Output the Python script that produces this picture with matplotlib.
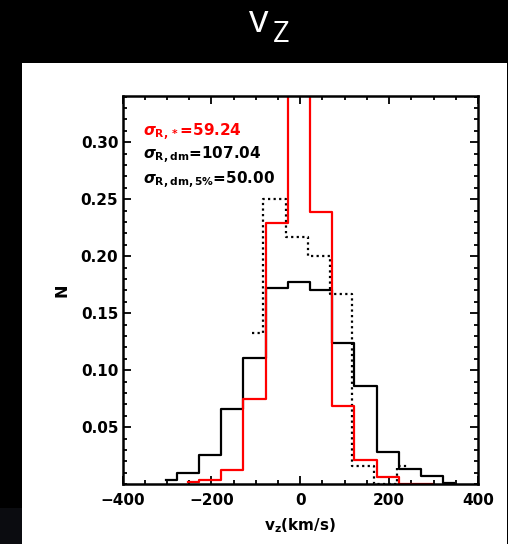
import matplotlib
matplotlib.use("Agg")
import matplotlib.pyplot as plt
from matplotlib.patches import Rectangle
from matplotlib.ticker import MultipleLocator

# ---- data (bin centres in km/s, fractions N) ----
black_x = [-303, -253, -203, -153, -103, -53, -3, 47, 97, 147, 197, 247, 297, 347]
black_y = [0.0038, 0.0096, 0.0257, 0.066, 0.111, 0.1725, 0.1775, 0.1705,
           0.124, 0.0865, 0.0283, 0.0134, 0.0073, 0.001]

red_x = [-253, -203, -153, -103, -53, -3, 47, 97, 147, 197, 247, 297]
red_y = [0.002, 0.0042, 0.0125, 0.0745, 0.2295, 0.37, 0.239, 0.0687,
         0.0213, 0.0067, 0.0006, 0.0006]

dot_x = [-108, -58, -8, 42, 92, 142, 192, 242]
dot_y = [0.133, 0.250, 0.2167, 0.200, 0.1667, 0.0163, 0.0006, 0.0163]

xticks = [-400, -200, 0, 200, 400]
yticks = [0.05, 0.10, 0.15, 0.20, 0.25, 0.30]

labels = [(r"$\sigma_{\rm R,*}$=59.24", "red"),
          (r"$\sigma_{\rm R,dm}$=107.04", "black"),
          (r"$\sigma_{\rm R,dm,5\%}$=50.00", "black")]

fnt = "DejaVu Sans"
plt.rcParams["mathtext.fontset"] = "custom"
plt.rcParams["mathtext.rm"] = "DejaVu Sans:bold"
plt.rcParams["mathtext.it"] = "DejaVu Sans:bold:italic"
plt.rcParams["mathtext.bf"] = "DejaVu Sans:bold"

W, H = 508, 544
fig = plt.figure(figsize=(W / 100, H / 100), dpi=100, facecolor="black")

# white panel
fig.patches.append(Rectangle((22 / W, 0), (507 - 22) / W, (H - 63) / H,
                             transform=fig.transFigure, facecolor="white",
                             edgecolor="none", zorder=-10))
fig.patches.append(Rectangle((0, 0), 22 / W, (H - 508) / H,
                             transform=fig.transFigure, facecolor="#0b0c10",
                             edgecolor="none", zorder=-10))

# title v_Z
fig.text(268 / W, 1 - 22 / H, "v", color="white", fontsize=28,
         family="Open Sans", ha="right", va="center")
fig.text(273 / W, 1 - 34 / H, "Z", color="white", fontsize=21,
         family="Open Sans", ha="left", va="center")

ax = fig.add_axes([122.5 / W, 1 - 484.3 / H, (478 - 122.5) / W, (484.3 - 96) / H])
ax.set_facecolor("white")

ax.step(black_x, black_y, where="mid", color="black", lw=1.6)
ax.step(dot_x, dot_y, where="mid", color="black", lw=1.6, ls=(0, (1, 1.5)))
ax.step(red_x, red_y, where="mid", color="red", lw=1.6)

ax.set_xlim(-400, 400)
ax.set_ylim(0, 0.3406)
ax.set_xticks(xticks)
ax.set_yticks(yticks)
ax.set_xticklabels([("\u2212" + str(-t)) if t < 0 else str(t) for t in xticks])
ax.set_yticklabels(["%.2f" % t for t in yticks])
ax.xaxis.set_minor_locator(MultipleLocator(50))
ax.yaxis.set_minor_locator(MultipleLocator(0.01))

ax.tick_params(which="both", direction="in", top=True, right=True,
               width=1.3, colors="black")
ax.tick_params(which="major", length=5.5)
ax.tick_params(which="minor", length=2.8)
ax.tick_params(axis="x", which="major", pad=6)
ax.tick_params(axis="y", which="major", pad=3)
for lab in ax.get_xticklabels() + ax.get_yticklabels():
    lab.set_fontfamily(fnt)
    lab.set_fontweight("bold")
    lab.set_fontsize(11)
for s in ax.spines.values():
    s.set_linewidth(1.8)

ax.set_xlabel(r"v$_{\rm z}$(km/s)", fontsize=11, fontweight="bold",
              family=fnt, labelpad=6)
ax.set_ylabel("N", fontsize=11.5, fontweight="bold", family=fnt, labelpad=8)

ys = [132, 155, 180]
for (txt, col), yy in zip(labels, ys):
    ax.text(143 / W, 1 - yy / H, txt, color=col, fontsize=11,
            fontweight="bold", family=fnt, transform=fig.transFigure,
            ha="left", va="center")

fig.savefig("out.png", dpi=100, facecolor="black")
